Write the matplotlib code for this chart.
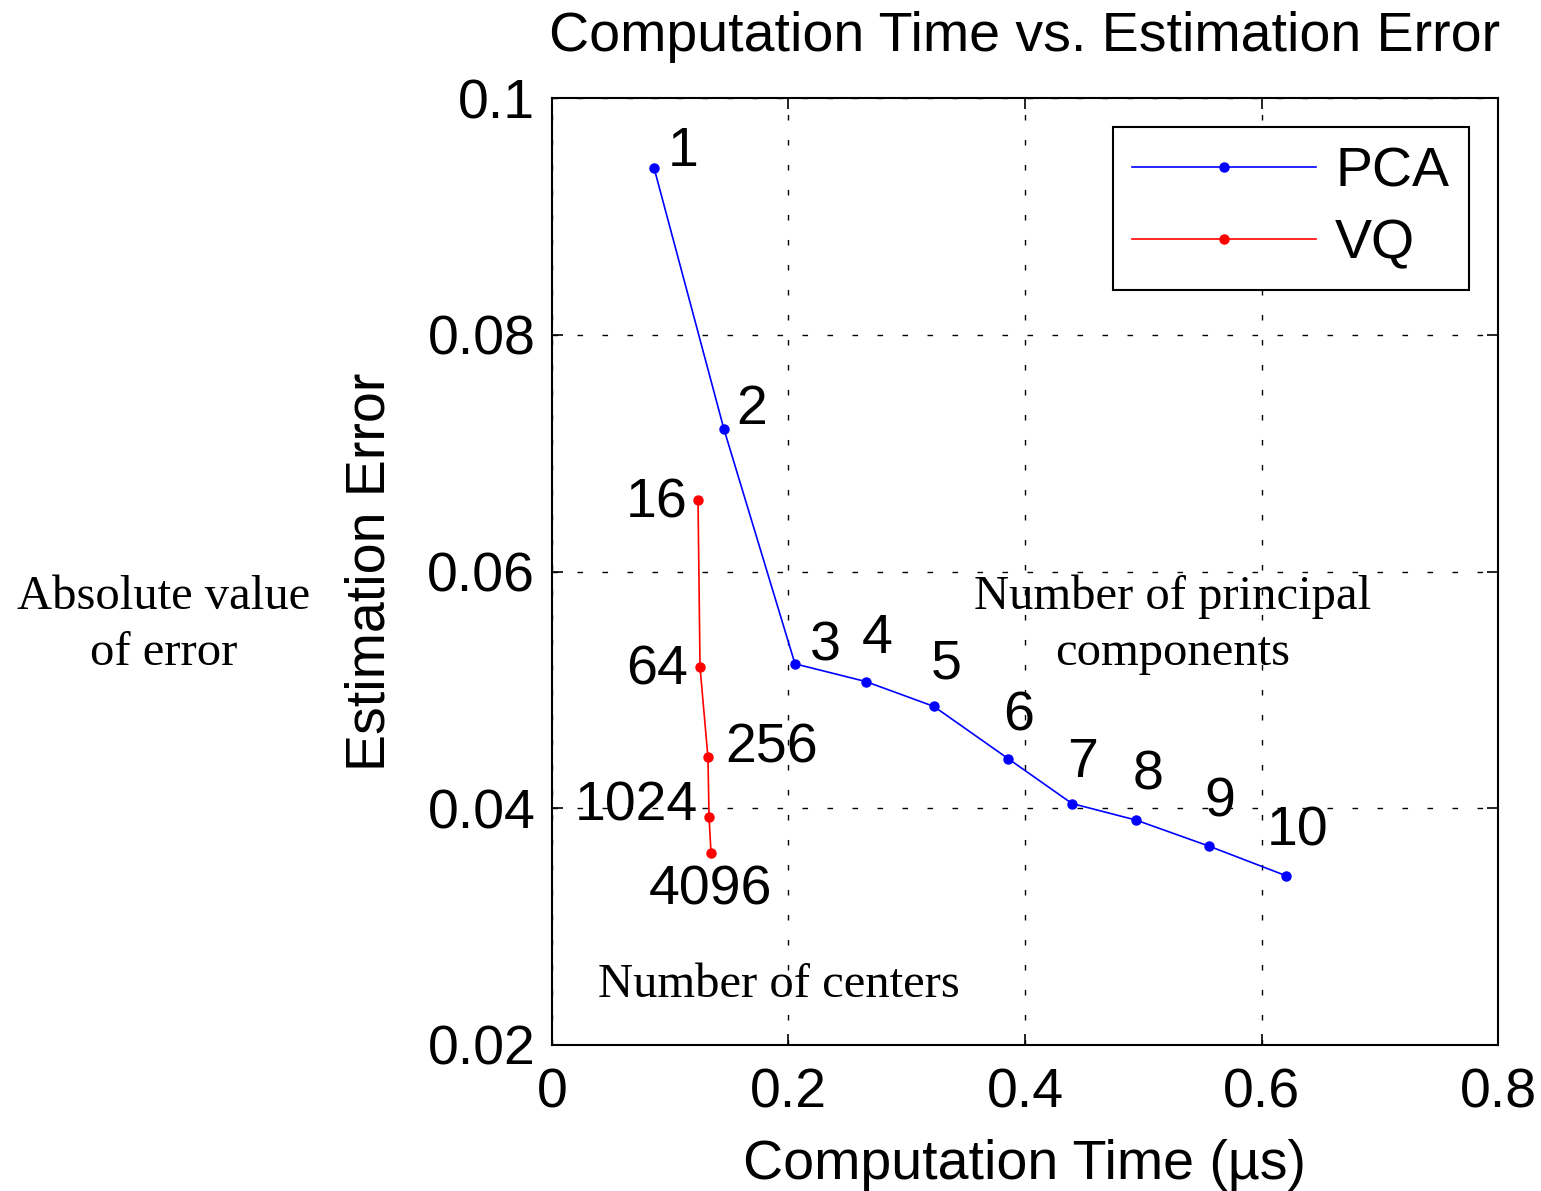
import numpy as np
import matplotlib.pyplot as plt

# ───────── DATOS ─────────
pca_time = [0.0863, 0.1455, 0.2055, 0.2655, 0.3230, 0.3856, 0.4397, 0.4939, 0.5556, 0.6207]
pca_err = [0.0941, 0.0720, 0.0522, 0.0507, 0.0486, 0.0442, 0.0404, 0.0390, 0.0368, 0.0343]
pca_labels = ['1', '2', '3', '4', '5', '6', '7', '8', '9', '10']

vq_time = [0.1235, 0.1252, 0.1319, 0.1328, 0.1345]
vq_err = [0.0660, 0.0519, 0.0443, 0.0393, 0.0362]
vq_labels = ['16', '64', '256', '1024', '4096']

xticks = [0, 0.2, 0.4, 0.6, 0.8]
yticks = [0.02, 0.04, 0.06, 0.08, 0.1]

# desplazamiento de las etiquetas (pixeles)
pca_off = [(29, 16), (28, 19), (30, 17), (11, 43), (12, 42), (11, 42),
           (11, 41), (12, 45), (11, 44), (12, 44)]
vq_off = [(-41, -3), (-43, -3), (64, 9), (-73, 10), (-1, -37)]

# ───────── FIGURA ─────────
sans = ['Liberation Sans', 'DejaVu Sans']
serif = ['Liberation Serif', 'DejaVu Serif']
fs = 40

fig = plt.figure(figsize=(15.41, 11.91), dpi=100)
ax = fig.add_axes([0.3582, 0.1226, 0.6139, 0.7951])

ax.plot(pca_time, pca_err, '-o', color='blue', lw=1.2, ms=6.5, label='PCA')
ax.plot(vq_time, vq_err, '-o', color='red', lw=1.2, ms=6.5, label='VQ')

for x, y, s, o in zip(pca_time, pca_err, pca_labels, pca_off):
    ax.annotate(s, (x, y), xytext=o, textcoords='offset pixels',
                ha='center', va='center', fontsize=fs, family=sans)
for x, y, s, o in zip(vq_time, vq_err, vq_labels, vq_off):
    ax.annotate(s, (x, y), xytext=o, textcoords='offset pixels',
                ha='center', va='center', fontsize=fs, family=sans)

ax.set_xlim(0, 0.8)
ax.set_ylim(0.02, 0.1)
ax.set_xticks(xticks)
ax.set_yticks(yticks)
ax.set_xticklabels(['0', '0.2', '0.4', '0.6', '0.8'], family=sans, fontsize=fs)
ax.set_yticklabels(['0.02', '0.04', '0.06', '0.08', '0.1'], family=sans, fontsize=fs)
ax.tick_params(direction='in', length=8, width=1.2, top=True, right=True)
ax.tick_params(axis='x', pad=16)
ax.tick_params(axis='y', pad=12)
for sp in ax.spines.values():
    sp.set_linewidth(1.5)

ax.grid(True, color='black', lw=1.0, linestyle=(0, (4, 14)))

ax.set_title('Computation Time vs. Estimation Error', family=sans, fontsize=fs, pad=34)
ax.set_xlabel('Computation Time (\u00b5s)', family=sans, fontsize=fs, labelpad=14)
ax.set_ylabel('Estimation Error', family=sans, fontsize=fs, labelpad=22)

leg = ax.legend(loc='upper right', bbox_to_anchor=(0.969, 0.969),
                prop={'family': sans, 'size': fs}, handlelength=3.3,
                fancybox=False, framealpha=1, edgecolor='black',
                borderpad=0.35, labelspacing=0.35, handletextpad=0.35,
                borderaxespad=0)
leg.get_frame().set_linewidth(1.5)

# ───────── ANOTACIONES ─────────
fig.text(164 / 1541, 1 - 625 / 1191, 'Absolute value\nof error', family=serif,
         fontsize=35, ha='center', va='center', linespacing=1.35)
fig.text(1173 / 1541, 1 - 625 / 1191, 'Number of principal\ncomponents', family=serif,
         fontsize=35, ha='center', va='center', linespacing=1.35)
fig.text(779 / 1541, 1 - 985 / 1191, 'Number of centers', family=serif,
         fontsize=35, ha='center', va='center')

fig.savefig('out.png', dpi=100)
